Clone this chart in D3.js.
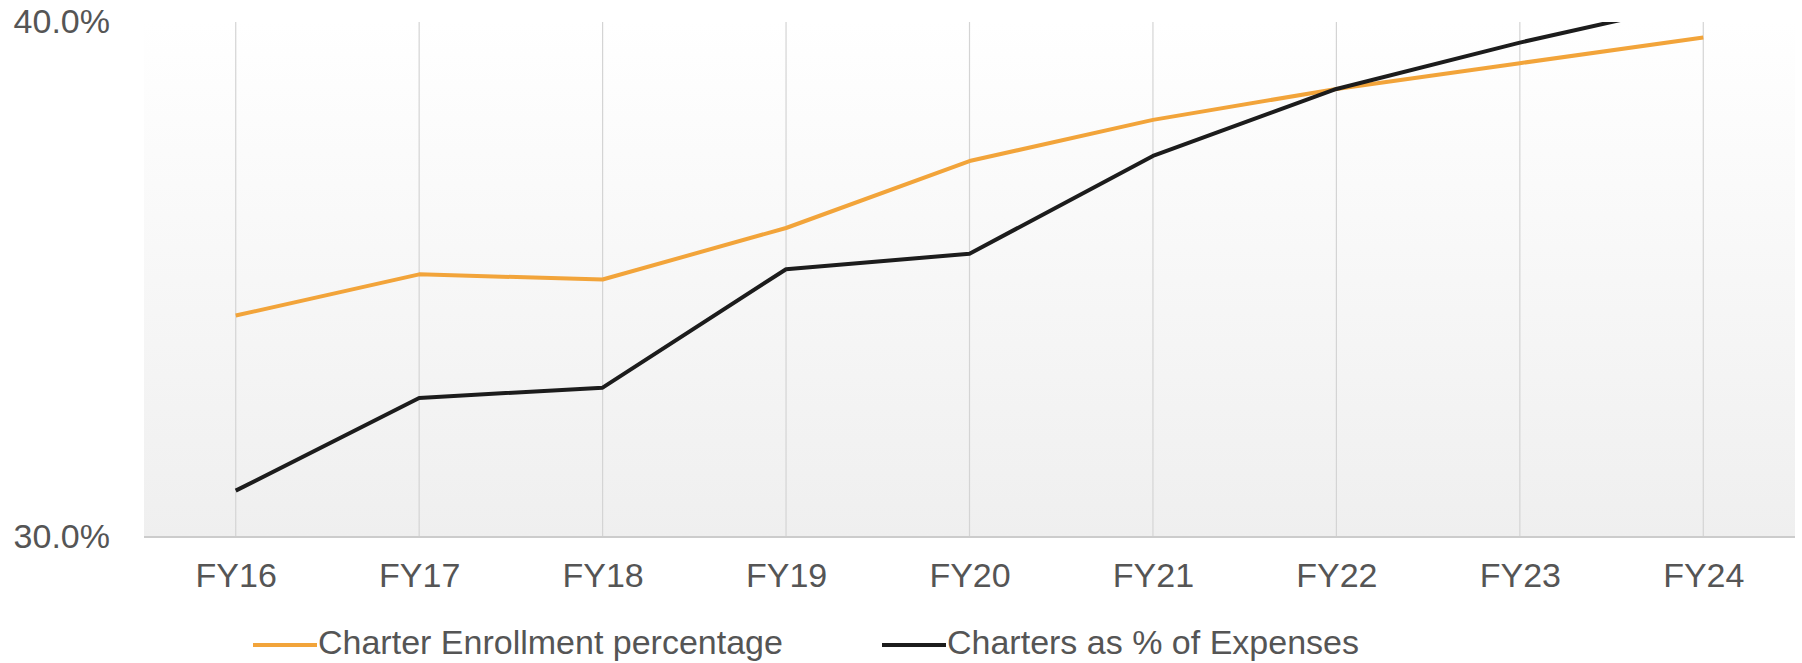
<!DOCTYPE html>
<html>
<head>
<meta charset="utf-8">
<script src="https://cdn.jsdelivr.net/npm/d3@7"></script>
<style>
  html, body { margin: 0; padding: 0; background: #ffffff; }
  svg { display: block; }
  text { font-family: "Liberation Sans", Arial, Helvetica, sans-serif; fill: #555555; }
</style>
</head>
<body>
<svg id="chart" width="1802" height="663"></svg>
<script>
// Fiscal years on the category axis
const years = ["FY16", "FY17", "FY18", "FY19", "FY20", "FY21", "FY22", "FY23", "FY24"];

// Share of enrollment in charter schools (%)
const enrollmentPct = [34.3, 35.1, 35.0, 36.0, 37.3, 38.1, 38.7, 39.2, 39.7];

// Charter payments as a share of total expenses (%)
const expensesPct = [30.9, 32.7, 32.9, 35.2, 35.5, 37.4, 38.7, 39.6, 40.4];

// Value axis
const yTicks = [30, 40];
const yDomain = [30, 40];

const seriesNames = ["Charter Enrollment percentage", "Charters as % of Expenses"];
const seriesColors = ["#f2a43a", "#1c1c1c"];

const svg = d3.select("#chart");
const plot = { left: 144, right: 1795, top: 22, bottom: 537 };

const x = d3.scalePoint()
  .domain(years)
  .range([plot.left, plot.right])
  .padding(0.5);

const y = d3.scaleLinear()
  .domain(yDomain)
  .range([plot.bottom, plot.top]);

// Plot background: white fading to light grey at the bottom
const defs = svg.append("defs");
const grad = defs.append("linearGradient")
  .attr("id", "plotBg")
  .attr("x1", 0).attr("y1", 0).attr("x2", 0).attr("y2", 1);
grad.append("stop").attr("offset", "0%").attr("stop-color", "#ffffff");
grad.append("stop").attr("offset", "100%").attr("stop-color", "#efefef");

defs.append("clipPath").attr("id", "plotClip")
  .append("rect")
  .attr("x", plot.left).attr("y", plot.top)
  .attr("width", plot.right - plot.left)
  .attr("height", plot.bottom - plot.top);

svg.append("rect")
  .attr("x", plot.left).attr("y", plot.top)
  .attr("width", plot.right - plot.left)
  .attr("height", plot.bottom - plot.top)
  .attr("fill", "url(#plotBg)");

// Vertical gridlines at each fiscal year
svg.append("g")
  .selectAll("line")
  .data(years)
  .join("line")
  .attr("x1", d => x(d)).attr("x2", d => x(d))
  .attr("y1", plot.top).attr("y2", plot.bottom)
  .attr("stroke", "#d4d4d4")
  .attr("stroke-width", 1.2);

// Baseline
svg.append("line")
  .attr("x1", plot.left).attr("x2", plot.right)
  .attr("y1", plot.bottom).attr("y2", plot.bottom)
  .attr("stroke", "#cccccc")
  .attr("stroke-width", 2);

// Y axis labels
const yAxis = d3.axisLeft(y)
  .tickValues(yTicks)
  .tickFormat(d => d.toFixed(1) + "%")
  .tickSize(0)
  .tickPadding(34);
const yG = svg.append("g")
  .attr("transform", `translate(${plot.left},0)`)
  .call(yAxis);
yG.select(".domain").remove();
yG.selectAll("text")
  .attr("font-size", 34)
  .attr("fill", "#555555")
  .style("font-family", "'Liberation Sans', Arial, sans-serif");

// X axis labels
const xAxis = d3.axisBottom(x).tickSize(0).tickPadding(26);
const xG = svg.append("g")
  .attr("transform", `translate(0,${plot.bottom})`)
  .call(xAxis);
xG.select(".domain").remove();
xG.selectAll("text")
  .attr("font-size", 34)
  .attr("fill", "#555555")
  .style("font-family", "'Liberation Sans', Arial, sans-serif");

// Series lines
const line = d3.line()
  .x((d, i) => x(years[i]))
  .y(d => y(d));

const series = [enrollmentPct, expensesPct];
svg.append("g")
  .attr("clip-path", "url(#plotClip)")
  .selectAll("path")
  .data(series)
  .join("path")
  .attr("d", d => line(d))
  .attr("fill", "none")
  .attr("stroke", (d, i) => seriesColors[i])
  .attr("stroke-width", 4)
  .attr("stroke-linejoin", "round");

// Legend
const legendY = 645;
const legendItems = [
  { name: seriesNames[0], color: seriesColors[0], x: 253 },
  { name: seriesNames[1], color: seriesColors[1], x: 882 }
];
const legend = svg.append("g");
legendItems.forEach(item => {
  legend.append("line")
    .attr("x1", item.x).attr("x2", item.x + 64)
    .attr("y1", legendY).attr("y2", legendY)
    .attr("stroke", item.color)
    .attr("stroke-width", 4);
  legend.append("text")
    .attr("x", item.x + 65)
    .attr("y", 654)
    .attr("font-size", 34)
    .text(item.name);
});
</script>
</body>
</html>
